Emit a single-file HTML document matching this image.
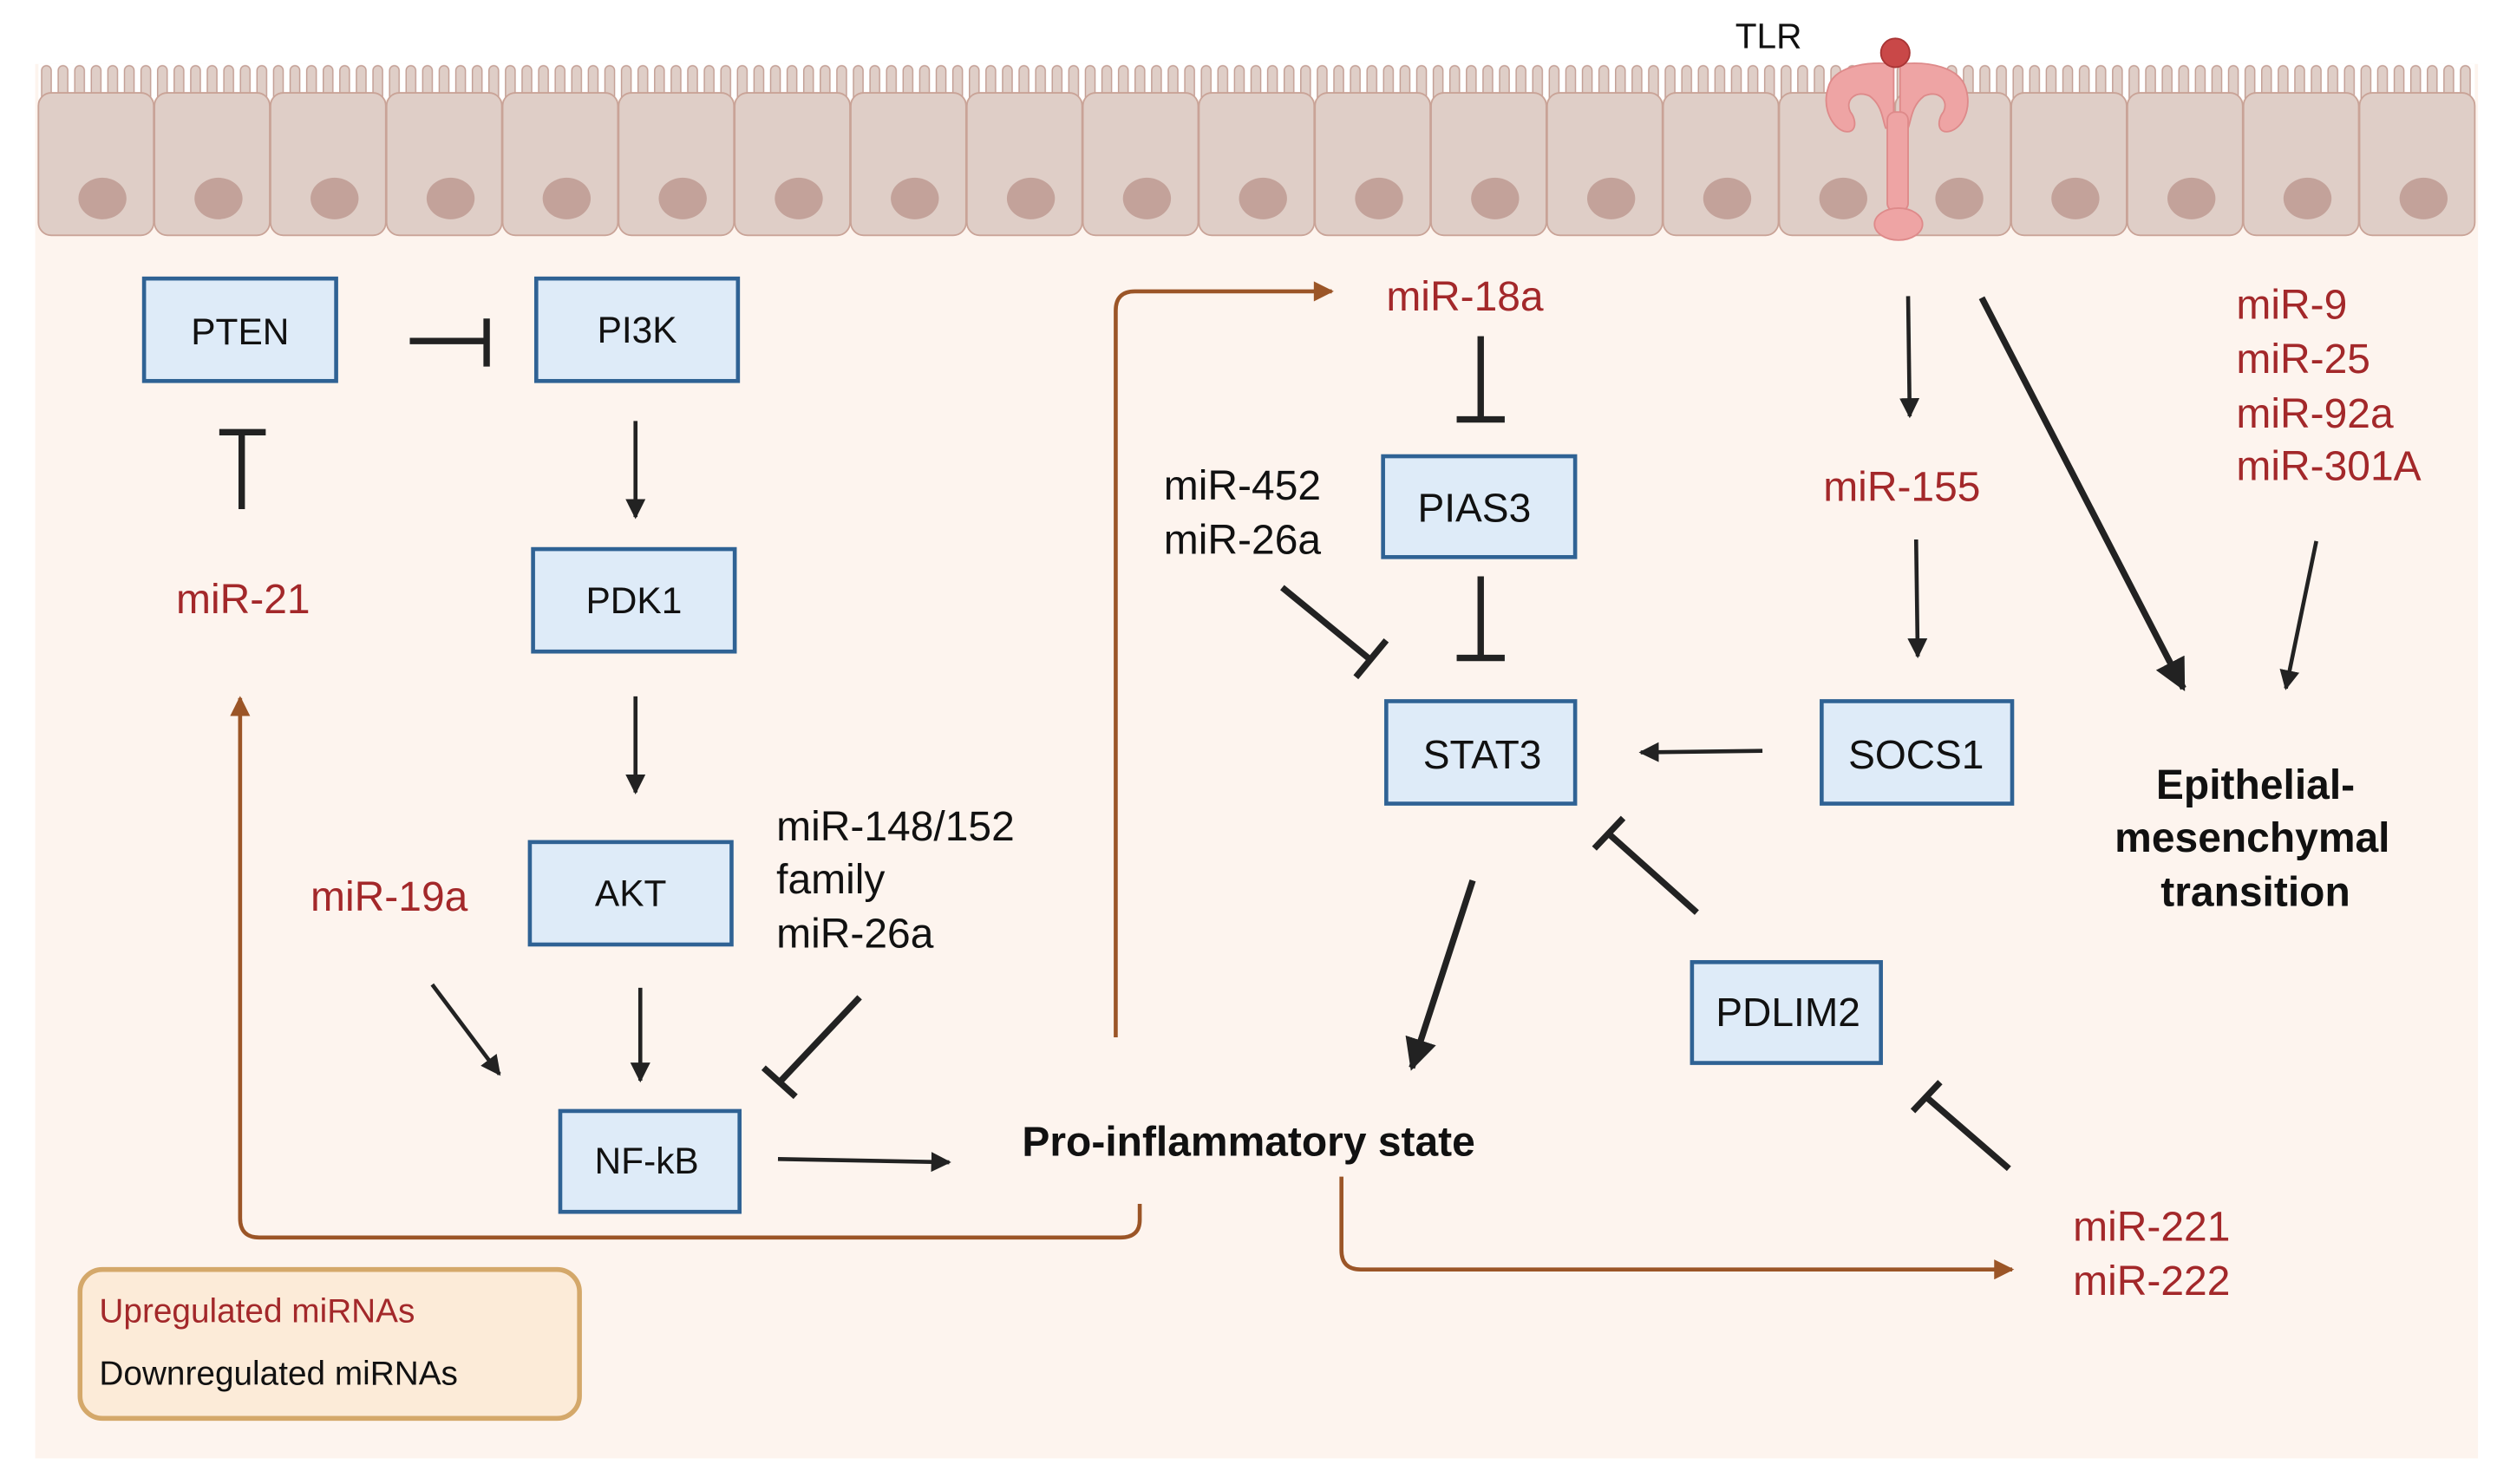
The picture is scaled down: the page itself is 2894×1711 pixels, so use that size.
<!DOCTYPE html>
<html><head><meta charset="utf-8"><style>
html,body{margin:0;padding:0;background:#fff;}
svg{display:block;}
text{font-family:"Liberation Sans",sans-serif;}
.red{fill:#a3282a;font-size:26px;}
.blk{fill:#111;font-size:26px;}
.bt{fill:#111;font-size:23px;text-anchor:middle;}
.bold{fill:#111;font-size:26px;font-weight:bold;}
.box{fill:#deebf8;stroke:#2f6294;stroke-width:2.5;}
.ln{stroke:#222;stroke-width:2.5;fill:none;}
.th{stroke:#222;stroke-width:4;fill:none;}
.br{stroke:#9b5527;stroke-width:2.5;fill:none;}
</style></head><body>
<svg width="2894" height="1711" viewBox="0 0 1568 927" preserveAspectRatio="none" xmlns="http://www.w3.org/2000/svg">
<defs>
<marker id="a" viewBox="0 0 10 10" refX="9" refY="5" markerWidth="5" markerHeight="5" orient="auto" markerUnits="strokeWidth"><path d="M0,0L10,5L0,10z" fill="#222"/></marker>
<marker id="ab" viewBox="0 0 10 10" refX="9" refY="5" markerWidth="5" markerHeight="5" orient="auto" markerUnits="strokeWidth"><path d="M0,0L10,5L0,10z" fill="#222"/></marker>
<marker id="ar" viewBox="0 0 10 10" refX="9" refY="5" markerWidth="6" markerHeight="5" orient="auto" markerUnits="strokeWidth"><path d="M0,0L10,5L0,10z" fill="#9b5527"/></marker>
<pattern id="mv" x="24" y="0" width="10.35" height="100" patternUnits="userSpaceOnUse">
<rect x="2" y="41" width="6" height="30" rx="3" fill="#dfcec7" stroke="#c4a096" stroke-width="0.8"/>
</pattern>
</defs>
<rect x="22" y="40" width="1526" height="871" fill="#fdf4ee"/>
<rect x="24" y="40" width="1522" height="22" fill="#fff"/>
<rect x="24" y="40" width="1522" height="22" fill="url(#mv)"/>
<g fill="#dfcec7" stroke="#c9a397" stroke-width="1">
<rect x="24" y="58" width="72" height="89" rx="8"/><rect x="96.5" y="58" width="72" height="89" rx="8"/><rect x="169" y="58" width="72" height="89" rx="8"/><rect x="241.5" y="58" width="72" height="89" rx="8"/><rect x="314" y="58" width="72" height="89" rx="8"/><rect x="386.5" y="58" width="72" height="89" rx="8"/><rect x="459" y="58" width="72" height="89" rx="8"/><rect x="531.5" y="58" width="72" height="89" rx="8"/><rect x="604" y="58" width="72" height="89" rx="8"/><rect x="676.5" y="58" width="72" height="89" rx="8"/><rect x="749" y="58" width="72" height="89" rx="8"/><rect x="821.5" y="58" width="72" height="89" rx="8"/><rect x="894" y="58" width="72" height="89" rx="8"/><rect x="966.5" y="58" width="72" height="89" rx="8"/><rect x="1039" y="58" width="72" height="89" rx="8"/><rect x="1111.5" y="58" width="72" height="89" rx="8"/><rect x="1184" y="58" width="72" height="89" rx="8"/><rect x="1256.5" y="58" width="72" height="89" rx="8"/><rect x="1329" y="58" width="72" height="89" rx="8"/><rect x="1401.5" y="58" width="72" height="89" rx="8"/><rect x="1474" y="58" width="72" height="89" rx="8"/>
</g>
<g fill="#c3a29a">
<ellipse cx="64" cy="124" rx="15" ry="13"/><ellipse cx="136.5" cy="124" rx="15" ry="13"/><ellipse cx="209" cy="124" rx="15" ry="13"/><ellipse cx="281.5" cy="124" rx="15" ry="13"/><ellipse cx="354" cy="124" rx="15" ry="13"/><ellipse cx="426.5" cy="124" rx="15" ry="13"/><ellipse cx="499" cy="124" rx="15" ry="13"/><ellipse cx="571.5" cy="124" rx="15" ry="13"/><ellipse cx="644" cy="124" rx="15" ry="13"/><ellipse cx="716.5" cy="124" rx="15" ry="13"/><ellipse cx="789" cy="124" rx="15" ry="13"/><ellipse cx="861.5" cy="124" rx="15" ry="13"/><ellipse cx="934" cy="124" rx="15" ry="13"/><ellipse cx="1006.5" cy="124" rx="15" ry="13"/><ellipse cx="1079" cy="124" rx="15" ry="13"/><ellipse cx="1151.5" cy="124" rx="15" ry="13"/><ellipse cx="1224" cy="124" rx="15" ry="13"/><ellipse cx="1296.5" cy="124" rx="15" ry="13"/><ellipse cx="1369" cy="124" rx="15" ry="13"/><ellipse cx="1441.5" cy="124" rx="15" ry="13"/><ellipse cx="1514" cy="124" rx="15" ry="13"/>
</g>
<!-- TLR -->
<g fill="#eea4a4" stroke="#de8a8a" stroke-width="1">
<path d="M1183,40 C1165,38 1145,42 1142,55 C1138,68 1145,80 1152,82 C1160,84 1160,75 1156,70 C1152,62 1160,56 1168,60 C1176,66 1176,75 1178,80 L1183,80z"/>
<path d="M1187,40 C1205,38 1224,42 1228,55 C1232,68 1226,80 1218,82 C1210,84 1210,75 1214,70 C1218,62 1210,56 1202,60 C1194,66 1194,75 1192,80 L1187,80z"/>
<rect x="1179" y="70" width="13" height="62" rx="5"/>
<ellipse cx="1186" cy="140" rx="15" ry="10"/>
</g>
<circle cx="1184" cy="33" r="9" fill="#c94848" stroke="#a83434" stroke-width="1"/>
<text x="1084" y="30" class="blk" style="font-size:22px">TLR</text>
<!-- boxes -->
<rect class="box" x="90" y="174" width="120" height="64"/><text class="bt" x="150" y="215">PTEN</text>
<rect class="box" x="335" y="174" width="126" height="64"/><text class="bt" x="398" y="214">PI3K</text>
<rect class="box" x="333" y="343" width="126" height="64"/><text class="bt" x="396" y="383">PDK1</text>
<rect class="box" x="331" y="526" width="126" height="64"/><text class="bt" x="394" y="566">AKT</text>
<rect class="box" x="350" y="694" width="112" height="63"/><text class="bt" x="404" y="733">NF-kB</text>
<rect class="box" x="864" y="285" width="120" height="63"/><text class="bt" x="921" y="326" style="font-size:25px">PIAS3</text>
<rect class="box" x="866" y="438" width="118" height="64"/><text class="bt" x="926" y="480" style="font-size:25px">STAT3</text>
<rect class="box" x="1138" y="438" width="119" height="64"/><text class="bt" x="1197" y="480" style="font-size:25px">SOCS1</text>
<rect class="box" x="1057" y="601" width="118" height="63"/><text class="bt" x="1117" y="641" style="font-size:25px">PDLIM2</text>
<!-- texts -->
<text class="red" x="110" y="383">miR-21</text>
<text class="red" x="194" y="569">miR-19a</text>
<text class="blk" x="485" y="525">miR-148/152</text>
<text class="blk" x="485" y="558">family</text>
<text class="blk" x="485" y="592">miR-26a</text>
<text class="bold" x="780" y="722" text-anchor="middle">Pro-inflammatory state</text>
<text class="red" x="866" y="194">miR-18a</text>
<text class="blk" x="727" y="312">miR-452</text>
<text class="blk" x="727" y="346">miR-26a</text>
<text class="red" x="1139" y="313">miR-155</text>
<text class="red" x="1397" y="199">miR-9</text>
<text class="red" x="1397" y="233">miR-25</text>
<text class="red" x="1397" y="267">miR-92a</text>
<text class="red" x="1397" y="300">miR-301A</text>
<text class="bold" x="1409" y="499" text-anchor="middle">Epithelial-</text>
<text class="bold" x="1407" y="532" text-anchor="middle">mesenchymal</text>
<text class="bold" x="1409" y="566" text-anchor="middle">transition</text>
<text class="red" x="1295" y="775">miR-221</text>
<text class="red" x="1295" y="809">miR-222</text>
<!-- connectors -->
<path class="th" d="M256,213H304M304,199V229"/>
<path class="th" d="M151,318V270M137,270H166"/>
<path class="ln" d="M397,263V323" marker-end="url(#a)"/>
<path class="ln" d="M397,435V495" marker-end="url(#a)"/>
<path class="ln" d="M400,617V675" marker-end="url(#a)"/>
<path class="ln" d="M270,615L312,671" marker-end="url(#a)"/>
<path class="th" d="M537,623L487,676M477,667L497,685"/>
<path class="ln" d="M486,724L593,726" marker-end="url(#a)"/>
<path class="br" d="M712,752V762Q712,773 700,773H162Q150,773 150,761V436" marker-end="url(#ar)"/>
<path class="br" d="M697,648V194Q697,182 709,182H832" marker-end="url(#ar)"/>
<path class="br" d="M838,735V781Q838,793 850,793H1257" marker-end="url(#ar)"/>
<path class="th" d="M925,210V262M910,262H940"/>
<path class="th" d="M925,360V411M910,411H940"/>
<path class="th" d="M801,367L856,412M847,423L866,400"/>
<path class="ln" d="M1101,469L1025,470" marker-end="url(#a)"/>
<path class="th" d="M1060,570L1004,520M996,530L1014,511"/>
<path class="th" d="M1255,730L1203,685M1195,694L1212,676"/>
<path class="th" d="M920,550L882,667" marker-end="url(#ab)"/>
<path class="ln" d="M1192,185L1193,260" marker-end="url(#a)"/>
<path class="ln" d="M1197,337L1198,410" marker-end="url(#a)"/>
<path class="th" d="M1238,186L1364,430" marker-end="url(#ab)"/>
<path class="ln" d="M1447,338L1428,430" marker-end="url(#a)"/>
<!-- legend -->
<rect x="50" y="793" width="312" height="93" rx="14" fill="#fcebd8" stroke="#d4a86a" stroke-width="3"/>
<text x="62" y="826" fill="#a3282a" style="font-size:21px">Upregulated miRNAs</text>
<text x="62" y="865" fill="#111" style="font-size:21px">Downregulated miRNAs</text>
</svg>
</body></html>
